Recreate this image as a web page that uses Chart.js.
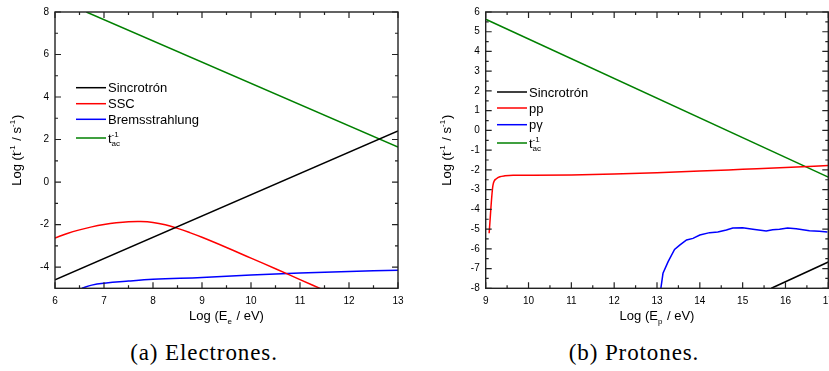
<!DOCTYPE html>
<html>
<head>
<meta charset="utf-8">
<script src="https://cdn.jsdelivr.net/npm/chart.js@4.4.1/dist/chart.umd.min.js"></script>
<style>
html, body { margin: 0; padding: 0; background: #fff; width: 829px; height: 371px; overflow: hidden; }
#wrap { position: relative; width: 829px; height: 371px; overflow: hidden; }
#cE { position: absolute; left: 0; top: 0; }
#cP { position: absolute; left: 414px; top: 0; }
.cap { position: absolute; top: 340px; line-height: 26px; font-family: 'Liberation Serif', serif; font-size: 23px; letter-spacing: 0.9px; white-space: nowrap; transform: translateX(-50%); color: #000; }
</style>
</head>
<body>
<div id="wrap">
  <canvas id="cE" width="414" height="335"></canvas>
  <canvas id="cP" width="440" height="335"></canvas>
  <div class="cap" style="left:204px">(a) Electrones.</div>
  <div class="cap" style="left:634px">(b) Protones.</div>
</div>
<script>
// ---------- Electrones (a)
const eSincX = [6, 13]
const eSincY = [-4.6, 2.4]
const eSscX = [6.0, 6.25, 6.5, 6.75, 7.0, 7.25, 7.5, 7.75, 8.0, 8.25, 8.5, 8.75, 9.0, 9.5, 10, 10.5, 11, 11.5]
const eSscY = [-2.63, -2.42, -2.25, -2.11, -2.0, -1.92, -1.87, -1.86, -1.9, -2.01, -2.18, -2.38, -2.6, -3.08, -3.58, -4.08, -4.59, -5.1]
const eBremX = [6.55, 6.75, 7, 7.5, 8, 9, 10, 11, 12, 13]
const eBremY = [-5.0, -4.85, -4.76, -4.66, -4.58, -4.49, -4.38, -4.28, -4.21, -4.15]
const eAccX = [6.64, 13]
const eAccY = [8, 1.64]
const eTicksX = [6, 7, 8, 9, 10, 11, 12, 13]
const eMinorX = [6.5, 7.5, 8.5, 9.5, 10.5, 11.5, 12.5]
const eTicksY = [-4, -2, 0, 2, 4, 6, 8]
const eMinorY = [-3, -1, 1, 3, 5, 7]

// ---------- Protones (b)
const pSincX = [15.67, 17]
const pSincY = [-8, -6.67]
const pPpX = [9.08, 9.17, 9.25, 9.33, 9.45, 9.64, 10, 11, 12, 13, 14, 15, 16, 17]
const pPpY = [-5.21, -2.77, -2.45, -2.35, -2.3, -2.27, -2.27, -2.26, -2.21, -2.14, -2.06, -1.97, -1.88, -1.78]
const pPgX = [13.09, 13.14, 13.26, 13.41, 13.53, 13.69, 13.84, 14.0, 14.23, 14.42, 14.62, 14.77, 15.0, 15.24, 15.55, 15.7, 15.86, 16.05, 16.25, 16.56, 16.79, 16.98]
const pPgY = [-8, -7.24, -6.65, -6.03, -5.81, -5.55, -5.47, -5.3, -5.18, -5.15, -5.05, -4.95, -4.93, -5.01, -5.1, -5.03, -5.01, -4.95, -4.98, -5.08, -5.11, -5.15]
const pAccX = [9, 17]
const pAccY = [5.63, -2.37]
const pTicksX = [9, 10, 11, 12, 13, 14, 15, 16, 17]
const pMinorX = [9.5, 10.5, 11.5, 12.5, 13.5, 14.5, 15.5, 16.5]
const pTicksY = [-8, -7, -6, -5, -4, -3, -2, -1, 0, 1, 2, 3, 4, 5, 6]
const pMinorY = [-7.5, -6.5, -5.5, -4.5, -3.5, -2.5, -1.5, -0.5, 0.5, 1.5, 2.5, 3.5, 4.5, 5.5]

const FAM = "'Liberation Sans', Arial, sans-serif"
const toPts = (xs, ys) => xs.map((x, i) => ({ x: x, y: ys[i] }))

// texto con subindices / superindices: string o {sup, sub}
const drawRich = (ctx, parts, x, y, size, measureOnly) => {
    let cx = x
    parts.forEach(p => {
        if (typeof p === 'string') {
            ctx.font = size + 'px ' + FAM
            if (!measureOnly) ctx.fillText(p, cx, y)
            cx += ctx.measureText(p).width
        } else {
            ctx.font = Math.round(size * 0.62) + 'px ' + FAM
            let w = 0
            if (p.sup) {
                if (!measureOnly) ctx.fillText(p.sup, cx, y - size * 0.45)
                w = ctx.measureText(p.sup).width
            }
            if (p.sub) {
                if (!measureOnly) ctx.fillText(p.sub, cx, y + size * 0.3)
                w = Math.max(w, ctx.measureText(p.sub).width)
            }
            cx += w + 1
        }
    })
    return cx - x
}

// marco, ticks hacia adentro, titulos y leyenda
const marcoPlugin = {
    id: 'marco',
    afterDatasetsDraw(chart, args, opts) {
        const ctx = chart.ctx
        const a = chart.chartArea
        const sx = chart.scales.x
        const sy = chart.scales.y
        ctx.save()
        ctx.strokeStyle = '#222'
        ctx.lineWidth = 1.4
        ctx.strokeRect(a.left, a.top, a.right - a.left, a.bottom - a.top)
        const tick = (vals, len, horiz) => {
            vals.forEach(v => {
                ctx.beginPath()
                if (horiz) {
                    const px = sx.getPixelForValue(v)
                    ctx.moveTo(px, a.bottom); ctx.lineTo(px, a.bottom - len)
                    ctx.moveTo(px, a.top); ctx.lineTo(px, a.top + len)
                } else {
                    const py = sy.getPixelForValue(v)
                    ctx.moveTo(a.left, py); ctx.lineTo(a.left + len, py)
                    ctx.moveTo(a.right, py); ctx.lineTo(a.right - len, py)
                }
                ctx.stroke()
            })
        }
        ctx.lineWidth = 1.2
        tick(opts.majorX, 6, true)
        tick(opts.minorX, 3, true)
        tick(opts.majorY, 6, false)
        tick(opts.minorY, 3, false)
        ctx.restore()
    },
    afterDraw(chart, args, opts) {
        const ctx = chart.ctx
        const a = chart.chartArea
        ctx.save()
        ctx.fillStyle = '#000'
        ctx.textBaseline = 'alphabetic'
        // titulo eje x
        const wx = drawRich(ctx, opts.xTitle, 0, 0, 13, true)
        drawRich(ctx, opts.xTitle, (a.left + a.right) / 2 - wx / 2, 320, 13)
        // titulo eje y
        const wy = drawRich(ctx, opts.yTitle, 0, 0, 13, true)
        ctx.save()
        ctx.translate(opts.yTitleX, (a.top + a.bottom) / 2)
        ctx.rotate(-Math.PI / 2)
        drawRich(ctx, opts.yTitle, -wy / 2, 0, 13)
        ctx.restore()
        // leyenda
        chart.data.datasets.forEach((ds, i) => {
            const y = opts.legendY[i]
            ctx.strokeStyle = ds.borderColor
            ctx.lineWidth = 1.5
            ctx.beginPath()
            ctx.moveTo(opts.legendX, y)
            ctx.lineTo(opts.legendX + 30, y)
            ctx.stroke()
            ctx.fillStyle = '#000'
            drawRich(ctx, ds.richLabel, opts.legendX + 32, y + 4.5, 13)
        })
        ctx.restore()
    }
}

const linea = (label, rich, color, pts, extra) => Object.assign({
    label: label,
    richLabel: rich,
    data: pts,
    borderColor: color,
    backgroundColor: color,
    borderWidth: 1.5,
    pointRadius: 0,
    tension: 0,
    fill: false
}, extra || {})

const crearChart = (canvas, cfg) => new Chart(canvas.getContext('2d'), {
    type: 'line',
    data: { datasets: cfg.datasets },
    options: {
        responsive: false,
        animation: false,
        devicePixelRatio: 1,
        layout: { padding: { left: 0, right: cfg.padRight, top: 12, bottom: 0 } },
        plugins: {
            legend: { display: false },
            tooltip: { enabled: false },
            marco: {
                majorX: cfg.ticksX, minorX: cfg.minorX,
                majorY: cfg.ticksY, minorY: cfg.minorY,
                xTitle: cfg.xTitle, yTitle: cfg.yTitle, yTitleX: cfg.yTitleX,
                legendX: cfg.legendX, legendY: cfg.legendY
            }
        },
        scales: {
            x: {
                type: 'linear', min: cfg.minX, max: cfg.maxX,
                afterBuildTicks: s => { s.ticks = cfg.ticksX.map(v => ({ value: v })) },
                afterFit: s => { s.height = 46.7 },
                grid: { display: false, drawTicks: false },
                border: { display: false },
                ticks: { color: '#000', font: { family: FAM, size: 10 }, padding: 7, maxRotation: 0, autoSkip: false }
            },
            y: {
                type: 'linear', min: cfg.minY, max: cfg.maxY,
                afterBuildTicks: s => { s.ticks = cfg.ticksY.map(v => ({ value: v })) },
                afterFit: s => { s.width = cfg.yWidth },
                grid: { display: false, drawTicks: false },
                border: { display: false },
                ticks: { color: '#000', font: { family: FAM, size: 10 }, padding: 6, autoSkip: false }
            }
        }
    },
    plugins: [marcoPlugin]
})

crearChart(document.querySelector('#cE'), {
    datasets: [
        linea('Sincrotrón', ['Sincrotrón'], '#000000', toPts(eSincX, eSincY)),
        linea('SSC', ['SSC'], '#ff0000', toPts(eSscX, eSscY), { tension: 0.4 }),
        linea('Bremsstrahlung', ['Bremsstrahlung'], '#0000ff', toPts(eBremX, eBremY), { tension: 0.4 }),
        linea('t_ac^-1', ['t', { sup: '-1', sub: 'ac' }], '#008000', toPts(eAccX, eAccY))
    ],
    minX: 6, maxX: 13, minY: -5, maxY: 8,
    ticksX: eTicksX, minorX: eMinorX, ticksY: eTicksY, minorY: eMinorY,
    padRight: 16, yWidth: 55,
    xTitle: ['Log (E', { sub: 'e' }, ' / eV)'],
    yTitle: ['Log (t', { sup: '-1' }, ' / s', { sup: '-1' }, ')'],
    yTitleX: 21,
    legendX: 76, legendY: [87.7, 103.7, 119.3, 138]
})

crearChart(document.querySelector('#cP'), {
    datasets: [
        linea('Sincrotrón', ['Sincrotrón'], '#000000', toPts(pSincX, pSincY)),
        linea('pp', ['pp'], '#ff0000', toPts(pPpX, pPpY), { cubicInterpolationMode: 'monotone' }),
        linea('pγ', ['pγ'], '#0000ff', toPts(pPgX, pPgY)),
        linea('t_ac^-1', ['t', { sup: '-1', sub: 'ac' }], '#008000', toPts(pAccX, pAccY))
    ],
    minX: 9, maxX: 17, minY: -8, maxY: 6,
    ticksX: pTicksX, minorX: pMinorX, ticksY: pTicksY, minorY: pMinorY,
    padRight: 25.7, yWidth: 71.7,
    xTitle: ['Log (E', { sub: 'p' }, ' / eV)'],
    yTitle: ['Log (t', { sup: '-1' }, ' / s', { sup: '-1' }, ')'],
    yTitleX: 37,
    legendX: 83, legendY: [92, 108, 124.7, 143]
})
</script>
</body>
</html>
